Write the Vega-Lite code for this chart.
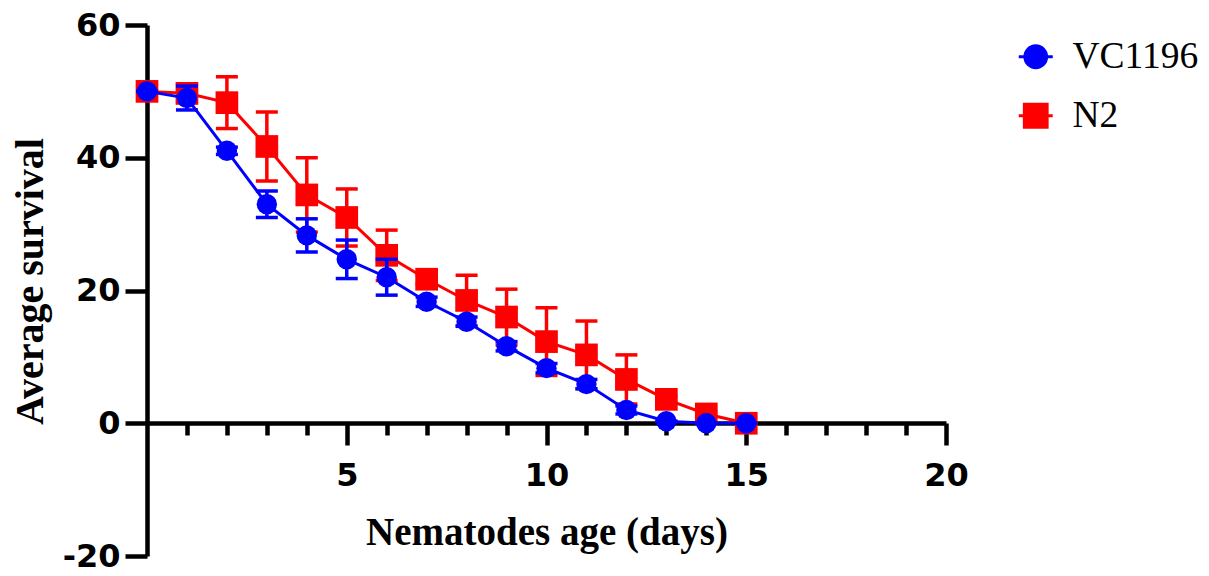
{
  "$schema": "https://vega.github.io/schema/vega-lite/v6.json",
  "width": 799,
  "height": 531,
  "autosize": "none",
  "padding": {"left": 147, "top": 25, "right": 263, "bottom": 20},
  "background": "white",
  "config": {
    "view": {"stroke": null},
    "axis": {
      "grid": false,
      "domainColor": "black",
      "domainWidth": 4.5,
      "tickColor": "black",
      "tickWidth": 4.5,
      "labelColor": "black",
      "labelFont": "DejaVu Sans",
      "labelFontWeight": "bold",
      "labelFontSize": 32,
      "titleColor": "black",
      "titleFont": "Liberation Serif",
      "titleFontWeight": "bold",
      "labelOverlap": false,
      "labelFlush": false
    }
  },
  "data": {
    "values": [
      {"strain": "VC1196", "day": 0, "mean": 50, "lo": 50, "hi": 50},
      {"strain": "VC1196", "day": 1, "mean": 49, "lo": 47.2, "hi": 50.8},
      {"strain": "VC1196", "day": 2, "mean": 41.05, "lo": 40.5, "hi": 41.6},
      {"strain": "VC1196", "day": 3, "mean": 33.0, "lo": 31.0, "hi": 35.0},
      {"strain": "VC1196", "day": 4, "mean": 28.3, "lo": 25.8, "hi": 30.8},
      {"strain": "VC1196", "day": 5, "mean": 24.7, "lo": 21.8, "hi": 27.6},
      {"strain": "VC1196", "day": 6, "mean": 22.0, "lo": 19.3, "hi": 24.7},
      {"strain": "VC1196", "day": 7, "mean": 18.3, "lo": 17.6, "hi": 19.0},
      {"strain": "VC1196", "day": 8, "mean": 15.3, "lo": 14.6, "hi": 16.0},
      {"strain": "VC1196", "day": 9, "mean": 11.6, "lo": 10.9, "hi": 12.3},
      {"strain": "VC1196", "day": 10, "mean": 8.3, "lo": 7.6, "hi": 9.0},
      {"strain": "VC1196", "day": 11, "mean": 5.9, "lo": 5.2, "hi": 6.6},
      {"strain": "VC1196", "day": 12, "mean": 2.0, "lo": 1.4, "hi": 2.6},
      {"strain": "VC1196", "day": 13, "mean": 0.3, "lo": 0.3, "hi": 0.3},
      {"strain": "VC1196", "day": 14, "mean": 0, "lo": 0, "hi": 0},
      {"strain": "VC1196", "day": 15, "mean": 0, "lo": 0, "hi": 0},
      {"strain": "N2", "day": 0, "mean": 50, "lo": 50, "hi": 50},
      {"strain": "N2", "day": 1, "mean": 49.7, "lo": 48.3, "hi": 51.1},
      {"strain": "N2", "day": 2, "mean": 48.3, "lo": 44.4, "hi": 52.2},
      {"strain": "N2", "day": 3, "mean": 41.7, "lo": 36.5, "hi": 46.9},
      {"strain": "N2", "day": 4, "mean": 34.4, "lo": 28.8, "hi": 40.0},
      {"strain": "N2", "day": 5, "mean": 31.0, "lo": 26.7, "hi": 35.3},
      {"strain": "N2", "day": 6, "mean": 25.3, "lo": 21.5, "hi": 29.1},
      {"strain": "N2", "day": 7, "mean": 21.7, "lo": 21.0, "hi": 22.4},
      {"strain": "N2", "day": 8, "mean": 18.5, "lo": 14.7, "hi": 22.3},
      {"strain": "N2", "day": 9, "mean": 16.0, "lo": 11.8, "hi": 20.2},
      {"strain": "N2", "day": 10, "mean": 12.3, "lo": 7.2, "hi": 17.4},
      {"strain": "N2", "day": 11, "mean": 10.3, "lo": 5.2, "hi": 15.4},
      {"strain": "N2", "day": 12, "mean": 6.6, "lo": 2.9, "hi": 10.3},
      {"strain": "N2", "day": 13, "mean": 3.6, "lo": 3.1, "hi": 4.1},
      {"strain": "N2", "day": 14, "mean": 1.4, "lo": 1.1, "hi": 1.7},
      {"strain": "N2", "day": 15, "mean": 0, "lo": 0, "hi": 0}
    ]
  },
  "encoding": {
    "x": {
      "field": "day",
      "type": "quantitative",
      "scale": {"domain": [0, 20], "nice": false, "zero": false},
      "axis": {
        "title": "Nematodes age (days)",
        "titleFontSize": 39,
        "titleBaseline": "alphabetic",
        "titleY": 121,
        "offset": -133,
        "values": [1, 2, 3, 4, 5, 6, 7, 8, 9, 10, 11, 12, 13, 14, 15, 16, 17, 18, 19, 20],
        "tickSize": {"condition": {"test": "datum.value % 5 === 0", "value": 22}, "value": 12},
        "labelExpr": "datum.value % 5 === 0 ? datum.label : ''",
        "labelBaseline": "alphabetic",
        "labelPadding": 40
      }
    },
    "color": {
      "field": "strain",
      "type": "nominal",
      "scale": {"domain": ["VC1196", "N2"], "range": ["#0000ff", "#ff0000"]},
      "legend": {
        "title": null,
        "orient": "none",
        "legendX": 870,
        "legendY": 13,
        "padding": 0,
        "labelFont": "Liberation Serif",
        "labelFontSize": 37.5,
        "labelColor": "black",
        "labelOffset": 18,
        "rowPadding": 20,
        "symbolSize": 1156,
        "encode": {
          "symbols": {
            "update": {
              "shape": {"signal": "datum.value === 'VC1196' ? 'M-1,0H1M-0.64,0A0.64,0.64,0,1,1,0.64,0A0.64,0.64,0,1,1,-0.64,0Z' : 'M-1,0H1M-0.67,-0.67H0.67V0.67H-0.67Z'"},
              "fill": {"signal": "datum.value === 'VC1196' ? '#0000ff' : '#ff0000'"},
              "stroke": {"signal": "datum.value === 'VC1196' ? '#0000ff' : '#ff0000'"},
              "strokeWidth": {"value": 3},
              "opacity": {"value": 1}
            }
          }
        }
      }
    }
  },
  "layer": [
    {
      "transform": [{"filter": "datum.strain === 'N2'"}],
      "layer": [
        {
          "mark": {"type": "rule", "strokeWidth": 3.5},
          "encoding": {
            "y": {
              "field": "lo",
              "type": "quantitative",
              "scale": {"domain": [-20, 60], "nice": false},
              "axis": {
                "title": "Average survival",
                "values": [-20, 0, 20, 40, 60],
                "labelExpr": "'' + datum.value",
                "tickSize": 22,
                "labelPadding": 5,
                "titleFontSize": 40,
                "titleX": -105,
                "titleY": 256,
                "titleAlign": "center",
                "titleBaseline": "alphabetic",
                "titleAngle": -90
              }
            },
            "y2": {"field": "hi"}
          }
        },
        {
          "mark": {"type": "tick", "orient": "horizontal", "size": 22, "thickness": 3.5, "opacity": 1},
          "encoding": {"y": {"field": "hi", "type": "quantitative", "title": "Average survival"}}
        },
        {
          "mark": {"type": "tick", "orient": "horizontal", "size": 22, "thickness": 3.5, "opacity": 1},
          "encoding": {"y": {"field": "lo", "type": "quantitative", "title": "Average survival"}}
        },
        {
          "mark": {"type": "line", "strokeWidth": 3},
          "encoding": {"y": {"field": "mean", "type": "quantitative", "title": "Average survival"}}
        },
        {
          "mark": {"type": "point", "filled": true, "opacity": 1, "size": 515, "shape": "square"},
          "encoding": {"y": {"field": "mean", "type": "quantitative", "title": "Average survival"}}
        }
      ]
    },
    {
      "transform": [{"filter": "datum.strain === 'VC1196'"}],
      "layer": [
        {
          "mark": {"type": "rule", "strokeWidth": 3.5},
          "encoding": {
            "y": {"field": "lo", "type": "quantitative", "title": "Average survival"},
            "y2": {"field": "hi"}
          }
        },
        {
          "mark": {"type": "tick", "orient": "horizontal", "size": 22, "thickness": 3.5, "opacity": 1},
          "encoding": {"y": {"field": "hi", "type": "quantitative", "title": "Average survival"}}
        },
        {
          "mark": {"type": "tick", "orient": "horizontal", "size": 22, "thickness": 3.5, "opacity": 1},
          "encoding": {"y": {"field": "lo", "type": "quantitative", "title": "Average survival"}}
        },
        {
          "mark": {"type": "line", "strokeWidth": 3},
          "encoding": {"y": {"field": "mean", "type": "quantitative", "title": "Average survival"}}
        },
        {
          "mark": {"type": "point", "filled": true, "opacity": 1, "size": 415, "shape": "circle"},
          "encoding": {"y": {"field": "mean", "type": "quantitative", "title": "Average survival"}}
        }
      ]
    }
  ]
}
